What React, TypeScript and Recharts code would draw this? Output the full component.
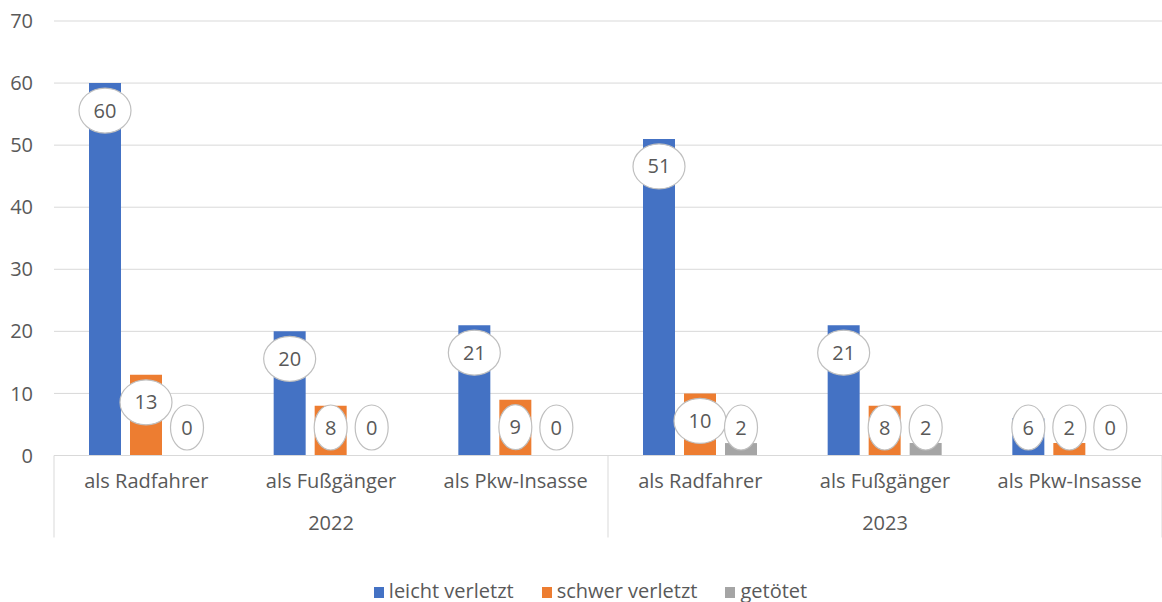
import React from 'react';
import { BarChart, Bar, XAxis, YAxis, CartesianGrid, Legend, LabelList } from 'recharts';

const categories = ['als Radfahrer', 'als Fußgänger', 'als Pkw-Insasse', 'als Radfahrer', 'als Fußgänger', 'als Pkw-Insasse'];
const years = ['2022', '2022', '2022', '2023', '2023', '2023'];
const leichtVerletzt = [60, 20, 21, 51, 21, 6];
const schwerVerletzt = [13, 8, 9, 10, 8, 2];
const getoetet = [0, 0, 0, 2, 2, 0];
const yTicks = [0, 10, 20, 30, 40, 50, 60, 70];
const seriesKeys = ['leicht', 'schwer', 'tot'];
const seriesNames = ['leicht verletzt', 'schwer verletzt', 'getötet'];
const seriesColors = ['#4472C4', '#ED7D31', '#A5A5A5'];

const data = categories.map((c, i) => ({
  idx: i,
  cat: c,
  year: years[i],
  leicht: leichtVerletzt[i],
  schwer: schwerVerletzt[i],
  tot: getoetet[i],
}));

const TEXT = '#595959';
const GRID = '#D9D9D9';
const FONT = '"Open Sans", "Noto Sans", sans-serif';

const CategoryTick = (props: any) => {
  const { x, y, payload } = props;
  const i = payload.value;
  const half = payload.offset || 0;
  const lines: any[] = [];
  if (i === 0 || years[i] !== years[i - 1]) {
    lines.push(<line key="l" x1={x - half} x2={x - half} y1={y} y2={y + 82} stroke={GRID} strokeWidth={1} />);
  }
  if (i === categories.length - 1) {
    lines.push(<line key="r" x1={x + half} x2={x + half} y1={y} y2={y + 82} stroke={GRID} strokeWidth={1} />);
  }
  return (
    <g>
      {lines}
      <text x={x} y={y + 25.5} dy="0.35em" textAnchor="middle" fill={TEXT} fontSize={20} fontFamily={FONT}>
        {categories[i]}
      </text>
    </g>
  );
};

const YearTick = (props: any) => {
  const { x, y, payload } = props;
  return (
    <text x={x} y={y + 23} dy="0.35em" textAnchor="middle" fill={TEXT} fontSize={20} fontFamily={FONT}>
      {payload.value}
    </text>
  );
};

const BubbleLabel = (props: any) => {
  const vb = props.viewBox || {};
  const x = props.x ?? vb.x;
  const y = props.y ?? vb.y;
  const width = props.width ?? vb.width;
  const height = props.height ?? vb.height;
  const value = props.value;
  if (x == null || y == null) return null;
  const s = String(value);
  const cx = x + width / 2;
  const base = y + height;
  const cy = Math.min(y + 27.5, base - 28);
  const rx = 7 + 9.5 * s.length;
  return (
    <g>
      <ellipse cx={cx} cy={cy} rx={rx} ry={22.5} fill="#FFFFFF" stroke="#BFBFBF" strokeWidth={1.2} />
      <text x={cx} y={cy} dy="0.35em" textAnchor="middle" fill={TEXT} fontSize={20} fontFamily={FONT}>
        {s}
      </text>
    </g>
  );
};

const LegendContent = () => (
  <div
    style={{
      display: 'flex',
      justifyContent: 'center',
      paddingLeft: 19,
      paddingTop: 16,
      height: 22,
      lineHeight: '20px',
      fontFamily: FONT,
      fontSize: 20,
      color: TEXT,
    }}
  >
    {seriesNames.map((n, i) => (
      <div key={n} style={{ display: 'flex', alignItems: 'center', marginRight: i < seriesNames.length - 1 ? 28 : 0 }}>
        <span style={{ display: 'inline-block', width: 10, height: 11, background: seriesColors[i], marginRight: 5, marginTop: 2 }} />
        <span>{n}</span>
      </div>
    ))}
  </div>
);

export default function App() {
  return (
    <div style={{ position: 'absolute', left: 0, top: 0, width: 1162, height: 602, background: '#fff', fontFamily: FONT }}>
      <BarChart
        width={1162}
        height={602}
        data={data}
        margin={{ top: 21, right: 0, bottom: 0, left: 0 }}
        barSize={32}
        barGap={9}
        style={{ fontFamily: FONT }}
      >
        <CartesianGrid vertical={false} stroke={GRID} strokeWidth={1} />
        <XAxis
          dataKey="idx"
          type="category"
          interval={0}
          tickLine={false}
          tickSize={0}
          tickMargin={0}
          axisLine={{ stroke: GRID, strokeWidth: 1 }}
          height={44}
          tick={<CategoryTick />}
        />
        <XAxis
          xAxisId="year"
          dataKey="year"
          allowDuplicatedCategory={false}
          interval={0}
          tickLine={false}
          tickSize={0}
          tickMargin={0}
          axisLine={false}
          height={64.5}
          tick={<YearTick />}
        />
        <YAxis
          domain={[0, 70]}
          ticks={yTicks}
          interval={0}
          axisLine={false}
          tickLine={false}
          tickSize={0}
          tickMargin={21}
          width={54}
          tick={{ fill: TEXT, fontSize: 20, fontFamily: FONT }}
        />
        <Legend verticalAlign="bottom" height={38} content={<LegendContent />} />
        {seriesKeys.map((k, i) => (
          <Bar key={k} dataKey={k} name={seriesNames[i]} fill={seriesColors[i]} minPointSize={0.01} isAnimationActive={false}>
            <LabelList dataKey={k} content={<BubbleLabel />} />
          </Bar>
        ))}
      </BarChart>
    </div>
  );
}
